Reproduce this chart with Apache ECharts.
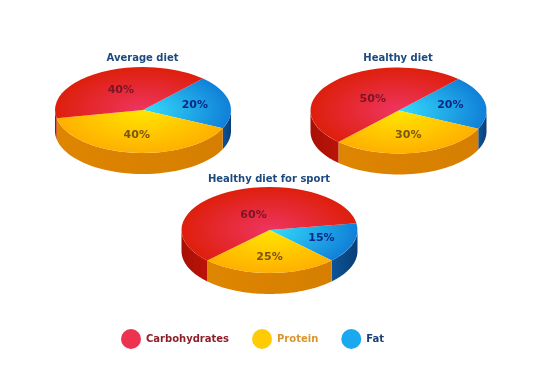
<!DOCTYPE html>
<html>
<head>
<meta charset="utf-8">
<style>
  html, body { margin: 0; padding: 0; background: #fff; }
  #main { width: 542px; height: 375px; }
</style>
<script src="https://cdn.jsdelivr.net/npm/echarts@6/dist/echarts.min.js"></script>
</head>
<body>
<div id="main"></div>
<script>
var pieNames = ['Average diet', 'Healthy diet', 'Healthy diet for sport'];
var fat = [20, 20, 15];
var protein = [40, 30, 25];
var carbohydrates = [40, 50, 60];

// layout of the three pies, in pixels / degrees
var centerX = [143, 398.5, 269.5];
var centerY = [110, 110.5, 230];
var startDeg = [-47, -47, -9];
var radiusX = 88;
var radiusY = 43;
var depth = 21;
var titleTop = [53, 53, 174];

// slices go clockwise in this order
var slices = [
  { name: 'Fat', values: fat, inner: '#35dcfb', outer: '#1080d8', wall: ['#0d5496', '#083f78'], label: '#082a86', labelR: [0.6, 0.6, 0.62], text: '#1a3f78' },
  { name: 'Protein', values: protein, inner: '#ffe600', outer: '#ffb000', wall: ['#de8600', '#d67e00'], label: '#7a5610', labelR: [0.58, 0.58, 0.63], text: '#d9962a' },
  { name: 'Carbohydrates', values: carbohydrates, inner: '#ee3560', outer: '#de1f0c', wall: ['#a80f06', '#bb1408'], label: '#7c1428', labelR: [0.52, 0.4, 0.4], text: '#8e1f28' }
];

function wallPoints(cx, cy, a0, a1) {
  // only the part facing the viewer (0..180 deg) has a visible side
  var from = Math.max(a0, 0);
  var to = Math.min(a1, Math.PI);
  var top = [];
  var bottom = [];
  if (to <= from) return null;
  for (var i = 0; i <= 40; i++) {
    var a = from + (to - from) * i / 40;
    var x = cx + radiusX * Math.cos(a);
    var y = cy + radiusY * Math.sin(a);
    top.push([x, y]);
    bottom.unshift([x, y + depth]);
  }
  return top.concat(bottom);
}

function makeRender(sliceIndex) {
  var s = slices[sliceIndex];
  return function (params, api) {
    var p = api.value(0);
    var before = 0;
    for (var k = 0; k < sliceIndex; k++) before += slices[k].values[p];
    var a0 = (startDeg[p] + before * 3.6) * Math.PI / 180;
    var a1 = a0 + api.value(1) * 3.6 * Math.PI / 180;
    var mid = (a0 + a1) / 2;
    var children = [];

    // a slice that wraps past 360 deg can also show wall on its far end
    var parts = [[a0, a1]];
    if (a1 > 2 * Math.PI) parts.push([a0 - 2 * Math.PI, a1 - 2 * Math.PI]);
    parts.forEach(function (part) {
      var pts = wallPoints(centerX[p], centerY[p], part[0], part[1]);
      if (pts) {
        children.push({
          type: 'polygon',
          shape: { points: pts },
          style: {
            fill: {
              type: 'linear', x: 0, y: 0, x2: 1, y2: 0,
              colorStops: [{ offset: 0, color: s.wall[0] }, { offset: 1, color: s.wall[1] }]
            }
          }
        });
      }
    });

    children.push({
      type: 'group',
      x: centerX[p],
      y: centerY[p],
      scaleY: radiusY / radiusX,
      children: [{
        type: 'sector',
        shape: { cx: 0, cy: 0, r0: 0, r: radiusX, startAngle: a0, endAngle: a1, clockwise: true },
        style: {
          fill: {
            type: 'radial', x: 0, y: 0, r: radiusX, global: true,
            colorStops: [{ offset: 0, color: s.inner }, { offset: 1, color: s.outer }]
          }
        }
      }]
    });

    var lr = s.labelR[p];
    children.push({
      type: 'text',
      x: centerX[p] + radiusX * lr * Math.cos(mid),
      y: centerY[p] + radiusY * lr * Math.sin(mid),
      style: {
        text: api.value(1) + '%',
        fill: s.label,
        font: 'bold 11px "DejaVu Sans"',
        align: 'center',
        verticalAlign: 'middle'
      }
    });

    return { type: 'group', children: children };
  };
}

var chart = echarts.init(document.getElementById('main'), null, { renderer: 'canvas' });

var option = {
  animation: false,
  backgroundColor: '#fff',
  title: pieNames.map(function (name, i) {
    return {
      text: name,
      left: centerX[i] - 0.5,
      top: titleTop[i],
      textAlign: 'center',
      padding: 0,
      textStyle: { color: '#1d4a7e', fontFamily: 'DejaVu Sans', fontWeight: 'bold', fontSize: 10 }
    };
  }),
  legend: {
    left: 121,
    top: 329,
    icon: 'circle',
    itemWidth: 20,
    itemHeight: 20,
    itemGap: 23,
    itemTextGap: 6,
    padding: 0,
    selectedMode: false,
    textStyle: { fontFamily: 'DejaVu Sans', fontWeight: 'bold', fontSize: 10 },
    data: [
      { name: 'Carbohydrates', itemStyle: { color: '#ee3350' }, textStyle: { color: '#8e1f28' } },
      { name: 'Protein', itemStyle: { color: '#ffcb05' }, textStyle: { color: '#d9962a' } },
      { name: 'Fat', itemStyle: { color: '#1aa8ee' }, textStyle: { color: '#1a3f78' } }
    ]
  },
  series: slices.map(function (s, i) {
    return {
      type: 'custom',
      name: s.name,
      coordinateSystem: 'none',
      silent: true,
      renderItem: makeRender(i),
      encode: { tooltip: 1 },
      data: s.values.map(function (v, p) { return [p, v]; })
    };
  })
};

chart.setOption(option);
</script>
</body>
</html>
